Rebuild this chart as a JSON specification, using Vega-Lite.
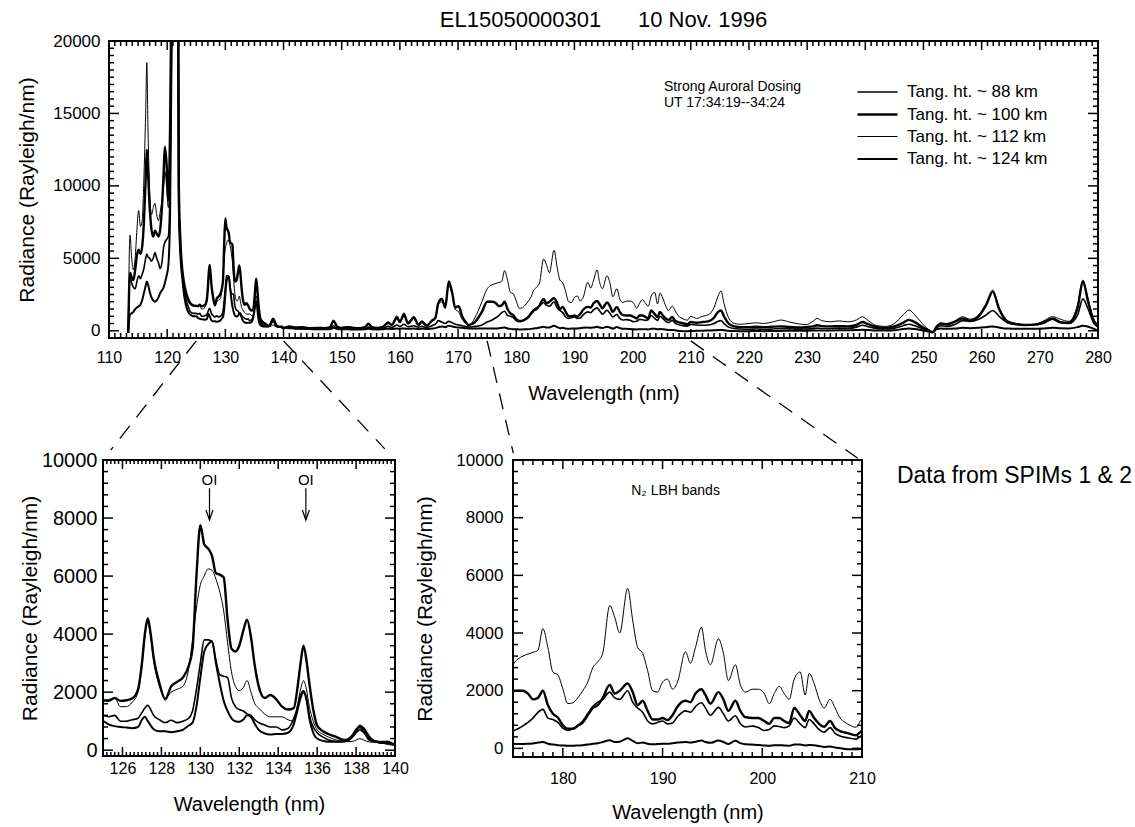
{
  "$schema": "https://vega.github.io/schema/vega-lite/v6.json",
  "padding": {"left": 15, "top": 8, "right": 5, "bottom": 2},
  "background": "white",
  "config": {
    "font": "Liberation Sans",
    "view": {"stroke": "black", "strokeWidth": 2},
    "axis": {"grid": false, "domain": false, "ticks": false, "labelColor": "black", "titleColor": "black", "labelFlush": false, "labelOverlap": false, "titleFontWeight": "normal"},
    "legend": {"labelColor": "black"},
    "title": {"color": "black"},
    "text": {"color": "black"},
    "tick": {"color": "black", "opacity": 1, "thickness": 1.5},
    "line": {"color": "black", "interpolate": "monotone", "strokeJoin": "round"}
  },
  "datasets": {
    "tx_top": [110,111,112,113,114,115,116,117,118,119,120,121,122,123,124,125,126,127,128,129,130,131,132,133,134,135,136,137,138,139,140,141,142,143,144,145,146,147,148,149,150,151,152,153,154,155,156,157,158,159,160,161,162,163,164,165,166,167,168,169,170,171,172,173,174,175,176,177,178,179,180,181,182,183,184,185,186,187,188,189,190,191,192,193,194,195,196,197,198,199,200,201,202,203,204,205,206,207,208,209,210,211,212,213,214,215,216,217,218,219,220,221,222,223,224,225,226,227,228,229,230,231,232,233,234,235,236,237,238,239,240,241,242,243,244,245,246,247,248,249,250,251,252,253,254,255,256,257,258,259,260,261,262,263,264,265,266,267,268,269,270,271,272,273,274,275,276,277,278,279,280],
    "ty_top": [0,500,1000,1500,2000,2500,3000,3500,4000,4500,5000,5500,6000,6500,7000,7500,8000,8500,9000,9500,10000,10500,11000,11500,12000,12500,13000,13500,14000,14500,15000,15500,16000,16500,17000,17500,18000,18500,19000,19500,20000],
    "tx_bl": [125,125.2,125.4,125.6,125.8,126,126.2,126.4,126.6,126.8,127,127.2,127.4,127.6,127.8,128,128.2,128.4,128.6,128.8,129,129.2,129.4,129.6,129.8,130,130.2,130.4,130.6,130.8,131,131.2,131.4,131.6,131.8,132,132.2,132.4,132.6,132.8,133,133.2,133.4,133.6,133.8,134,134.2,134.4,134.6,134.8,135,135.2,135.4,135.6,135.8,136,136.2,136.4,136.6,136.8,137,137.2,137.4,137.6,137.8,138,138.2,138.4,138.6,138.8,139,139.2,139.4,139.6,139.8,140],
    "ty_b": [0,400,800,1200,1600,2000,2400,2800,3200,3600,4000,4400,4800,5200,5600,6000,6400,6800,7200,7600,8000,8400,8800,9200,9600,10000],
    "tx_bm": [175,176,177,178,179,180,181,182,183,184,185,186,187,188,189,190,191,192,193,194,195,196,197,198,199,200,201,202,203,204,205,206,207,208,209,210],
    "spectra": [
      {"nm":113.3,"h88":-150,"h100":-150,"h112":-150,"h124":-150},
      {"nm":113.6,"h88":3800,"h100":4000,"h112":6600,"h124":1100},
      {"nm":113.9,"h88":3300,"h100":3700,"h112":5000,"h124":1200},
      {"nm":114.2,"h88":3000,"h100":3500,"h112":4200,"h124":1300},
      {"nm":114.5,"h88":2900,"h100":4200,"h112":5000,"h124":1500},
      {"nm":114.8,"h88":3400,"h100":5200,"h112":7000,"h124":1600},
      {"nm":115.1,"h88":3800,"h100":5600,"h112":8300,"h124":1700},
      {"nm":115.4,"h88":3600,"h100":5300,"h112":7200,"h124":1800},
      {"nm":115.7,"h88":3900,"h100":5800,"h112":7600,"h124":2100},
      {"nm":116.0,"h88":4300,"h100":7500,"h112":10500,"h124":2600},
      {"nm":116.3,"h88":5000,"h100":10500,"h112":15000,"h124":3100},
      {"nm":116.5,"h88":5300,"h100":12500,"h112":18500,"h124":3400},
      {"nm":116.7,"h88":5100,"h100":11000,"h112":14000,"h124":3200},
      {"nm":117.0,"h88":5000,"h100":8500,"h112":9500,"h124":2700},
      {"nm":117.3,"h88":4800,"h100":7000,"h112":8000,"h124":2300},
      {"nm":117.6,"h88":5000,"h100":6500,"h112":8500,"h124":2100},
      {"nm":117.9,"h88":5400,"h100":6900,"h112":8800,"h124":2000},
      {"nm":118.2,"h88":5000,"h100":6700,"h112":8000,"h124":2100},
      {"nm":118.5,"h88":4700,"h100":6500,"h112":7600,"h124":2300},
      {"nm":118.8,"h88":4300,"h100":7000,"h112":8200,"h124":2600},
      {"nm":119.1,"h88":4700,"h100":8500,"h112":9000,"h124":2800},
      {"nm":119.4,"h88":5800,"h100":11000,"h112":10000,"h124":3000},
      {"nm":119.6,"h88":6100,"h100":12700,"h112":11000,"h124":3300},
      {"nm":119.9,"h88":6300,"h100":11500,"h112":10000,"h124":3800},
      {"nm":120.2,"h88":6500,"h100":9000,"h112":8500,"h124":4500},
      {"nm":120.5,"h88":10000,"h100":14000,"h112":12000,"h124":8000},
      {"nm":120.8,"h88":22000,"h100":26000,"h112":24000,"h124":21000},
      {"nm":121.2,"h88":60000,"h100":60000,"h112":60000,"h124":60000},
      {"nm":121.6,"h88":90000,"h100":90000,"h112":90000,"h124":90000},
      {"nm":121.85,"h88":27000,"h100":30000,"h112":28000,"h124":26000},
      {"nm":122.0,"h88":9000,"h100":10000,"h112":9000,"h124":8500},
      {"nm":122.3,"h88":5500,"h100":6000,"h112":5500,"h124":5000},
      {"nm":122.6,"h88":3900,"h100":4200,"h112":4000,"h124":3600},
      {"nm":122.9,"h88":2900,"h100":3300,"h112":3100,"h124":2500},
      {"nm":123.2,"h88":2200,"h100":2700,"h112":2500,"h124":1800},
      {"nm":123.6,"h88":1700,"h100":2200,"h112":2000,"h124":1300},
      {"nm":124.0,"h88":1300,"h100":1900,"h112":1800,"h124":1100},
      {"nm":124.5,"h88":1200,"h100":1750,"h112":1700,"h124":1000},
      {"nm":125.0,"h88":1200,"h100":1720,"h112":1700,"h124":1000},
      {"nm":125.3,"h88":1150,"h100":1700,"h112":1750,"h124":880},
      {"nm":125.6,"h88":1200,"h100":1800,"h112":1800,"h124":830},
      {"nm":125.9,"h88":1000,"h100":1700,"h112":1500,"h124":800},
      {"nm":126.2,"h88":1000,"h100":1720,"h112":1500,"h124":780},
      {"nm":126.5,"h88":1050,"h100":1780,"h112":1650,"h124":760},
      {"nm":126.8,"h88":1100,"h100":2100,"h112":2000,"h124":800},
      {"nm":127.0,"h88":1300,"h100":3000,"h112":2900,"h124":1050},
      {"nm":127.15,"h88":1450,"h100":4000,"h112":3900,"h124":1150},
      {"nm":127.3,"h88":1550,"h100":4550,"h112":4400,"h124":1000},
      {"nm":127.45,"h88":1400,"h100":4000,"h112":3900,"h124":850},
      {"nm":127.6,"h88":1200,"h100":3200,"h112":3100,"h124":720},
      {"nm":127.9,"h88":1050,"h100":2300,"h112":2200,"h124":650},
      {"nm":128.2,"h88":950,"h100":1750,"h112":1800,"h124":650},
      {"nm":128.5,"h88":1030,"h100":2200,"h112":2000,"h124":620},
      {"nm":128.8,"h88":950,"h100":2350,"h112":2100,"h124":650},
      {"nm":129.1,"h88":1000,"h100":2500,"h112":2200,"h124":700},
      {"nm":129.4,"h88":1100,"h100":2900,"h112":2800,"h124":850},
      {"nm":129.6,"h88":1350,"h100":3500,"h112":3800,"h124":950},
      {"nm":129.8,"h88":2100,"h100":6000,"h112":4900,"h124":1500},
      {"nm":130.0,"h88":3000,"h100":7750,"h112":5700,"h124":2500},
      {"nm":130.2,"h88":3800,"h100":7100,"h112":6000,"h124":3400},
      {"nm":130.4,"h88":3800,"h100":6950,"h112":6250,"h124":3650},
      {"nm":130.6,"h88":3750,"h100":6700,"h112":6200,"h124":3750},
      {"nm":130.8,"h88":3100,"h100":6100,"h112":5900,"h124":3000},
      {"nm":131.0,"h88":2600,"h100":6050,"h112":5450,"h124":2300},
      {"nm":131.2,"h88":2550,"h100":5950,"h112":4800,"h124":1700},
      {"nm":131.4,"h88":2500,"h100":4500,"h112":3700,"h124":1350},
      {"nm":131.6,"h88":1800,"h100":3500,"h112":2700,"h124":1100},
      {"nm":131.8,"h88":1500,"h100":3400,"h112":2200,"h124":1000},
      {"nm":132.0,"h88":1400,"h100":3600,"h112":2050,"h124":980},
      {"nm":132.2,"h88":1350,"h100":4100,"h112":2150,"h124":1050},
      {"nm":132.4,"h88":1250,"h100":4500,"h112":2400,"h124":1200},
      {"nm":132.6,"h88":1200,"h100":3900,"h112":2000,"h124":1150},
      {"nm":132.8,"h88":1050,"h100":2900,"h112":1600,"h124":900},
      {"nm":133.0,"h88":950,"h100":2200,"h112":1450,"h124":700},
      {"nm":133.3,"h88":870,"h100":1800,"h112":1250,"h124":580},
      {"nm":133.6,"h88":800,"h100":1900,"h112":1150,"h124":540},
      {"nm":133.9,"h88":800,"h100":1750,"h112":1150,"h124":560},
      {"nm":134.2,"h88":700,"h100":1500,"h112":1150,"h124":560},
      {"nm":134.5,"h88":750,"h100":1400,"h112":1050,"h124":600},
      {"nm":134.8,"h88":1100,"h100":1450,"h112":1000,"h124":900},
      {"nm":135.0,"h88":1500,"h100":2200,"h112":1600,"h124":1400},
      {"nm":135.15,"h88":1900,"h100":3000,"h112":2100,"h124":1800},
      {"nm":135.3,"h88":2050,"h100":3600,"h112":2400,"h124":2000},
      {"nm":135.45,"h88":1800,"h100":3100,"h112":2100,"h124":1750},
      {"nm":135.6,"h88":1200,"h100":2300,"h112":1500,"h124":1100},
      {"nm":135.8,"h88":800,"h100":1400,"h112":1000,"h124":600},
      {"nm":136.0,"h88":600,"h100":850,"h112":700,"h124":400},
      {"nm":136.3,"h88":450,"h100":650,"h112":550,"h124":320},
      {"nm":136.6,"h88":350,"h100":550,"h112":450,"h124":290},
      {"nm":137.0,"h88":300,"h100":450,"h112":350,"h124":290},
      {"nm":137.4,"h88":300,"h100":350,"h112":300,"h124":300},
      {"nm":137.8,"h88":450,"h100":500,"h112":300,"h124":450},
      {"nm":138.0,"h88":600,"h100":700,"h112":350,"h124":650},
      {"nm":138.2,"h88":700,"h100":800,"h112":400,"h124":850},
      {"nm":138.4,"h88":600,"h100":650,"h112":350,"h124":750},
      {"nm":138.7,"h88":400,"h100":350,"h112":280,"h124":450},
      {"nm":139.0,"h88":300,"h100":300,"h112":270,"h124":300},
      {"nm":139.3,"h88":250,"h100":280,"h112":250,"h124":260},
      {"nm":139.6,"h88":250,"h100":290,"h112":200,"h124":250},
      {"nm":140.0,"h88":180,"h100":200,"h112":170,"h124":200},
      {"nm":141.0,"h88":200,"h100":300,"h112":250,"h124":180},
      {"nm":142.0,"h88":150,"h100":220,"h112":200,"h124":150},
      {"nm":143.0,"h88":150,"h100":250,"h112":220,"h124":130},
      {"nm":144.0,"h88":140,"h100":200,"h112":180,"h124":120},
      {"nm":145.0,"h88":120,"h100":180,"h112":170,"h124":110},
      {"nm":146.0,"h88":130,"h100":200,"h112":200,"h124":110},
      {"nm":147.0,"h88":120,"h100":180,"h112":170,"h124":100},
      {"nm":148.0,"h88":150,"h100":250,"h112":230,"h124":110},
      {"nm":148.6,"h88":350,"h100":700,"h112":650,"h124":200},
      {"nm":149.2,"h88":160,"h100":300,"h112":280,"h124":120},
      {"nm":150.0,"h88":130,"h100":200,"h112":200,"h124":100},
      {"nm":151.0,"h88":140,"h100":250,"h112":230,"h124":100},
      {"nm":152.0,"h88":120,"h100":200,"h112":200,"h124":90},
      {"nm":153.0,"h88":120,"h100":180,"h112":200,"h124":90},
      {"nm":154.0,"h88":150,"h100":250,"h112":250,"h124":100},
      {"nm":154.6,"h88":250,"h100":480,"h112":450,"h124":130},
      {"nm":155.2,"h88":140,"h100":250,"h112":230,"h124":100},
      {"nm":156.0,"h88":120,"h100":200,"h112":200,"h124":90},
      {"nm":157.0,"h88":150,"h100":250,"h112":280,"h124":100},
      {"nm":158.0,"h88":300,"h100":550,"h112":620,"h124":130},
      {"nm":158.6,"h88":220,"h100":400,"h112":450,"h124":120},
      {"nm":159.5,"h88":400,"h100":900,"h112":1050,"h124":150},
      {"nm":160.0,"h88":300,"h100":600,"h112":700,"h124":140},
      {"nm":160.7,"h88":450,"h100":1100,"h112":1250,"h124":160},
      {"nm":161.4,"h88":280,"h100":500,"h112":600,"h124":130},
      {"nm":162.4,"h88":350,"h100":900,"h112":1000,"h124":150},
      {"nm":163.2,"h88":250,"h100":400,"h112":500,"h124":120},
      {"nm":163.8,"h88":300,"h100":600,"h112":700,"h124":140},
      {"nm":164.6,"h88":220,"h100":350,"h112":400,"h124":120},
      {"nm":165.5,"h88":350,"h100":700,"h112":650,"h124":150},
      {"nm":166.1,"h88":450,"h100":900,"h112":800,"h124":180},
      {"nm":166.6,"h88":700,"h100":1900,"h112":1800,"h124":250},
      {"nm":167.2,"h88":600,"h100":2200,"h112":2000,"h124":300},
      {"nm":167.8,"h88":500,"h100":1600,"h112":1800,"h124":250},
      {"nm":168.4,"h88":650,"h100":3400,"h112":3100,"h124":350},
      {"nm":169.0,"h88":550,"h100":2600,"h112":2500,"h124":300},
      {"nm":169.5,"h88":450,"h100":1600,"h112":1500,"h124":250},
      {"nm":170.1,"h88":400,"h100":1700,"h112":1300,"h124":220},
      {"nm":170.7,"h88":350,"h100":1000,"h112":800,"h124":200},
      {"nm":171.3,"h88":300,"h100":600,"h112":500,"h124":180},
      {"nm":171.8,"h88":250,"h100":400,"h112":350,"h124":150},
      {"nm":172.9,"h88":300,"h100":600,"h112":900,"h124":150},
      {"nm":174.1,"h88":400,"h100":1300,"h112":2000,"h124":150},
      {"nm":175.0,"h88":600,"h100":2000,"h112":2900,"h124":150},
      {"nm":175.5,"h88":680,"h100":2000,"h112":3100,"h124":150},
      {"nm":176.0,"h88":780,"h100":2000,"h112":3200,"h124":150},
      {"nm":176.5,"h88":900,"h100":1900,"h112":3270,"h124":160},
      {"nm":177.0,"h88":1050,"h100":1700,"h112":3330,"h124":170},
      {"nm":177.5,"h88":1250,"h100":1750,"h112":3400,"h124":200},
      {"nm":178.0,"h88":1350,"h100":2000,"h112":4150,"h124":220},
      {"nm":178.5,"h88":1050,"h100":1500,"h112":3500,"h124":160},
      {"nm":179.0,"h88":1000,"h100":1200,"h112":2650,"h124":130},
      {"nm":179.5,"h88":900,"h100":1070,"h112":2550,"h124":110},
      {"nm":180.0,"h88":700,"h100":800,"h112":2060,"h124":100},
      {"nm":180.5,"h88":620,"h100":680,"h112":1550,"h124":90},
      {"nm":181.0,"h88":680,"h100":680,"h112":1580,"h124":90},
      {"nm":181.5,"h88":800,"h100":780,"h112":1750,"h124":100},
      {"nm":182.0,"h88":950,"h100":900,"h112":2000,"h124":110},
      {"nm":182.5,"h88":1200,"h100":1150,"h112":2300,"h124":130},
      {"nm":183.0,"h88":1450,"h100":1400,"h112":2800,"h124":160},
      {"nm":183.5,"h88":1600,"h100":1500,"h112":3000,"h124":180},
      {"nm":184.0,"h88":1700,"h100":1750,"h112":3300,"h124":220},
      {"nm":184.7,"h88":1950,"h100":2200,"h112":4950,"h124":280},
      {"nm":185.2,"h88":1750,"h100":1900,"h112":4550,"h124":220},
      {"nm":185.7,"h88":1700,"h100":2000,"h112":4000,"h124":230},
      {"nm":186.5,"h88":2000,"h100":2250,"h112":5550,"h124":350},
      {"nm":187.0,"h88":1600,"h100":1950,"h112":4450,"h124":260},
      {"nm":187.5,"h88":1400,"h100":1500,"h112":3500,"h124":180},
      {"nm":188.0,"h88":1250,"h100":1650,"h112":3300,"h124":200},
      {"nm":188.5,"h88":950,"h100":1300,"h112":2700,"h124":160},
      {"nm":189.0,"h88":850,"h100":1000,"h112":2000,"h124":140},
      {"nm":189.5,"h88":900,"h100":1000,"h112":1950,"h124":150},
      {"nm":190.0,"h88":950,"h100":1050,"h112":2300,"h124":160},
      {"nm":190.5,"h88":850,"h100":980,"h112":2400,"h124":160},
      {"nm":191.0,"h88":880,"h100":1150,"h112":2050,"h124":180},
      {"nm":191.5,"h88":1100,"h100":1450,"h112":2300,"h124":200},
      {"nm":192.3,"h88":1300,"h100":1650,"h112":3350,"h124":220},
      {"nm":192.8,"h88":1250,"h100":1600,"h112":2950,"h124":200},
      {"nm":193.3,"h88":1450,"h100":1900,"h112":3500,"h124":230},
      {"nm":193.9,"h88":1580,"h100":2050,"h112":4200,"h124":270},
      {"nm":194.3,"h88":1400,"h100":1850,"h112":3400,"h124":220},
      {"nm":194.8,"h88":1150,"h100":1550,"h112":2900,"h124":190},
      {"nm":195.6,"h88":1420,"h100":1950,"h112":3800,"h124":270},
      {"nm":196.1,"h88":1200,"h100":1700,"h112":3300,"h124":220},
      {"nm":196.6,"h88":950,"h100":1300,"h112":2350,"h124":150},
      {"nm":197.3,"h88":1130,"h100":1650,"h112":2900,"h124":260},
      {"nm":197.8,"h88":850,"h100":1300,"h112":2200,"h124":180},
      {"nm":198.3,"h88":740,"h100":1080,"h112":1950,"h124":140},
      {"nm":199.0,"h88":770,"h100":1050,"h112":2050,"h124":130},
      {"nm":199.6,"h88":720,"h100":1050,"h112":2050,"h124":120},
      {"nm":200.2,"h88":620,"h100":950,"h112":1900,"h124":100},
      {"nm":200.7,"h88":650,"h100":850,"h112":1550,"h124":90},
      {"nm":201.2,"h88":780,"h100":1050,"h112":1900,"h124":110},
      {"nm":201.7,"h88":760,"h100":1050,"h112":2150,"h124":110},
      {"nm":202.2,"h88":720,"h100":950,"h112":1900,"h124":100},
      {"nm":202.7,"h88":780,"h100":880,"h112":1700,"h124":90},
      {"nm":203.2,"h88":1050,"h100":1400,"h112":2400,"h124":130},
      {"nm":203.8,"h88":850,"h100":1150,"h112":2650,"h124":130},
      {"nm":204.3,"h88":720,"h100":950,"h112":1850,"h124":100},
      {"nm":204.7,"h88":1000,"h100":1300,"h112":2600,"h124":120},
      {"nm":205.2,"h88":850,"h100":1050,"h112":2250,"h124":110},
      {"nm":205.7,"h88":650,"h100":850,"h112":1700,"h124":80},
      {"nm":206.2,"h88":560,"h100":750,"h112":1400,"h124":50},
      {"nm":206.8,"h88":720,"h100":950,"h112":1700,"h124":60},
      {"nm":207.3,"h88":520,"h100":700,"h112":1400,"h124":30},
      {"nm":207.8,"h88":430,"h100":600,"h112":1050,"h124":0},
      {"nm":208.3,"h88":380,"h100":550,"h112":900,"h124":-20},
      {"nm":208.8,"h88":350,"h100":500,"h112":800,"h124":-30},
      {"nm":209.4,"h88":320,"h100":450,"h112":730,"h124":-30},
      {"nm":210.0,"h88":440,"h100":600,"h112":1000,"h124":-20},
      {"nm":211.0,"h88":400,"h100":550,"h112":850,"h124":0},
      {"nm":212.0,"h88":380,"h100":600,"h112":1000,"h124":0},
      {"nm":213.0,"h88":400,"h100":650,"h112":1100,"h124":20},
      {"nm":214.0,"h88":500,"h100":900,"h112":1600,"h124":30},
      {"nm":214.7,"h88":650,"h100":1300,"h112":2400,"h124":50},
      {"nm":215.2,"h88":700,"h100":1400,"h112":2750,"h124":60},
      {"nm":215.7,"h88":500,"h100":1000,"h112":1900,"h124":40},
      {"nm":216.5,"h88":250,"h100":500,"h112":900,"h124":0},
      {"nm":217.5,"h88":150,"h100":300,"h112":500,"h124":-20},
      {"nm":218.5,"h88":120,"h100":250,"h112":450,"h124":-30},
      {"nm":220.0,"h88":100,"h100":250,"h112":500,"h124":-30},
      {"nm":221.3,"h88":120,"h100":280,"h112":550,"h124":-20},
      {"nm":222.5,"h88":100,"h100":250,"h112":500,"h124":-30},
      {"nm":224.0,"h88":120,"h100":280,"h112":600,"h124":-20},
      {"nm":225.5,"h88":150,"h100":300,"h112":740,"h124":-10},
      {"nm":227.0,"h88":130,"h100":260,"h112":600,"h124":0},
      {"nm":228.5,"h88":110,"h100":220,"h112":480,"h124":0},
      {"nm":229.8,"h88":120,"h100":250,"h112":420,"h124":0},
      {"nm":231.0,"h88":150,"h100":300,"h112":650,"h124":10},
      {"nm":231.7,"h88":180,"h100":380,"h112":850,"h124":20},
      {"nm":232.5,"h88":160,"h100":320,"h112":700,"h124":10},
      {"nm":234.0,"h88":160,"h100":300,"h112":620,"h124":20},
      {"nm":235.5,"h88":180,"h100":320,"h112":680,"h124":30},
      {"nm":237.0,"h88":170,"h100":300,"h112":620,"h124":40},
      {"nm":238.5,"h88":250,"h100":400,"h112":750,"h124":50},
      {"nm":239.5,"h88":380,"h100":600,"h112":970,"h124":70},
      {"nm":240.5,"h88":280,"h100":450,"h112":700,"h124":50},
      {"nm":242.0,"h88":150,"h100":250,"h112":350,"h124":20},
      {"nm":243.5,"h88":120,"h100":200,"h112":300,"h124":10},
      {"nm":245.0,"h88":180,"h100":300,"h112":500,"h124":30},
      {"nm":246.5,"h88":350,"h100":550,"h112":1100,"h124":120},
      {"nm":247.5,"h88":450,"h100":750,"h112":1430,"h124":150},
      {"nm":248.5,"h88":350,"h100":600,"h112":1100,"h124":120},
      {"nm":249.8,"h88":150,"h100":250,"h112":500,"h124":40},
      {"nm":250.8,"h88":0,"h100":50,"h112":100,"h124":-50},
      {"nm":251.6,"h88":-100,"h100":-100,"h112":-80,"h124":-100},
      {"nm":252.2,"h88":200,"h100":250,"h112":300,"h124":100},
      {"nm":253.0,"h88":350,"h100":500,"h112":500,"h124":150},
      {"nm":254.0,"h88":300,"h100":450,"h112":450,"h124":130},
      {"nm":255.5,"h88":450,"h100":650,"h112":700,"h124":150},
      {"nm":256.7,"h88":700,"h100":850,"h112":970,"h124":200},
      {"nm":258.0,"h88":650,"h100":700,"h112":800,"h124":180},
      {"nm":259.5,"h88":800,"h100":1000,"h112":1100,"h124":200},
      {"nm":260.8,"h88":1100,"h100":1800,"h112":1900,"h124":250},
      {"nm":261.9,"h88":1400,"h100":2700,"h112":2800,"h124":300},
      {"nm":263.0,"h88":1000,"h100":1500,"h112":1600,"h124":220},
      {"nm":264.5,"h88":550,"h100":600,"h112":700,"h124":150},
      {"nm":266.0,"h88":450,"h100":450,"h112":500,"h124":140},
      {"nm":267.5,"h88":380,"h100":400,"h112":420,"h124":130},
      {"nm":269.0,"h88":400,"h100":420,"h112":450,"h124":130},
      {"nm":270.5,"h88":500,"h100":550,"h112":650,"h124":150},
      {"nm":272.2,"h88":800,"h100":850,"h112":970,"h124":200},
      {"nm":273.5,"h88":550,"h100":600,"h112":800,"h124":170},
      {"nm":275.0,"h88":500,"h100":550,"h112":650,"h124":160},
      {"nm":276.5,"h88":1100,"h100":1600,"h112":1800,"h124":250},
      {"nm":277.4,"h88":2200,"h100":3400,"h112":3500,"h124":350},
      {"nm":278.3,"h88":1500,"h100":2000,"h112":2200,"h124":280},
      {"nm":279.2,"h88":600,"h100":700,"h112":900,"h124":150},
      {"nm":280.0,"h88":250,"h100":300,"h112":400,"h124":0}
    ]
  },
  "spacing": -13,
  "vconcat": [
    {
      "bounds": "flush",
      "spacing": 5,
      "hconcat": [
        {
          "width": 1,
          "height": 1,
          "view": {"stroke": null},
          "data": {"values": []},
          "mark": "point"
        },
        {
          "width": 989,
          "height": 297,
          "title": {"text": "EL15050000301\u00a0\u00a0\u00a0\u00a0\u00a0\u00a010 Nov. 1996", "fontSize": 22, "fontWeight": "normal", "anchor": "middle", "frame": "group", "offset": 0},
          "layer": [
            {
              "data": {"name": "spectra"},
              "transform": [{"fold": ["h88", "h100", "h112", "h124"], "as": ["series", "radiance"]}],
              "mark": {"type": "line", "clip": true},
              "encoding": {
                "x": {"field": "nm", "type": "quantitative", "scale": {"domain": [110, 280], "nice": false, "zero": false},
                  "axis": {"orient": "bottom", "values": [110,120,130,140,150,160,170,180,190,200,210,220,230,240,250,260,270,280], "format": "d",
                    "labelPadding": 11, "labelFontSize": 16, "title": "Wavelength (nm)", "titleFontSize": 20, "titlePadding": 18}},
                "y": {"field": "radiance", "type": "quantitative", "scale": {"domain": [-500, 20000], "nice": false, "zero": false},
                  "axis": {"orient": "left", "values": [0, 5000, 10000, 15000, 20000], "format": "d",
                    "labelPadding": 9, "labelFontSize": 17, "title": "Radiance (Rayleigh/nm)", "titleFontSize": 21, "titlePadding": 15}},
                "strokeWidth": {"field": "series", "type": "nominal",
                  "scale": {"type": "ordinal", "domain": ["h88", "h100", "h112", "h124"], "range": [1.6, 2.4, 1, 2]},
                  "legend": {"orient": "none", "legendX": 763, "legendY": 40, "title": null, "padding": 0,
                    "symbolType": "M-2,0H2", "symbolSize": 400, "symbolStrokeColor": "black", "symbolFillColor": "transparent",
                    "labelFontSize": 17, "labelOffset": 18, "rowPadding": 3,
                    "labelExpr": "replace(datum.label, 'h', 'Tang. ht. ~ ') + ' km'"}}
              }
            },
            {
              "data": {"values": [{}]},
              "mark": {"type": "text", "text": ["Strong Auroral Dosing", "UT 17:34:19--34:24"], "align": "left", "baseline": "top", "fontSize": 14, "lineHeight": 16},
              "encoding": {
                "x": {"datum": 205.4, "type": "quantitative", "axis": null},
                "y": {"datum": 17300, "type": "quantitative", "axis": null}
              }
            },
            {
              "data": {"name": "tx_top"},
              "mark": {"type": "tick", "orient": "vertical", "clip": true},
              "encoding": {
                "x": {"field": "data", "type": "quantitative", "axis": null},
                "y": {"datum": -500, "type": "quantitative", "axis": null},
                "size": {"condition": {"test": "datum.data % 10 === 0", "value": 18}, "value": 10}
              }
            },
            {
              "data": {"name": "tx_top"},
              "mark": {"type": "tick", "orient": "vertical", "clip": true},
              "encoding": {
                "x": {"field": "data", "type": "quantitative", "axis": null},
                "y": {"datum": 20000, "type": "quantitative", "axis": null},
                "size": {"condition": {"test": "datum.data % 10 === 0", "value": 18}, "value": 10}
              }
            },
            {
              "data": {"name": "ty_top"},
              "mark": {"type": "tick", "orient": "horizontal", "clip": true},
              "encoding": {
                "y": {"field": "data", "type": "quantitative", "axis": null},
                "x": {"datum": 110, "type": "quantitative", "axis": null},
                "size": {"condition": {"test": "datum.data % 5000 === 0", "value": 20}, "value": 10}
              }
            },
            {
              "data": {"name": "ty_top"},
              "mark": {"type": "tick", "orient": "horizontal", "clip": true},
              "encoding": {
                "y": {"field": "data", "type": "quantitative", "axis": null},
                "x": {"datum": 280, "type": "quantitative", "axis": null},
                "size": {"condition": {"test": "datum.data % 5000 === 0", "value": 20}, "value": 10}
              }
            },
            {
              "data": {"values": [{}]},
              "mark": {"type": "rule", "strokeDash": [16, 11], "strokeWidth": 1.3, "color": "black"},
              "encoding": {
                "x": {"datum": 125, "type": "quantitative", "axis": null}, "x2": {"datum": 110.3},
                "y": {"datum": -700, "type": "quantitative", "axis": null}, "y2": {"datum": -8240}
              }
            },
            {
              "data": {"values": [{}]},
              "mark": {"type": "rule", "strokeDash": [16, 11], "strokeWidth": 1.3, "color": "black"},
              "encoding": {
                "x": {"datum": 140, "type": "quantitative", "axis": null}, "x2": {"datum": 157.4},
                "y": {"datum": -700, "type": "quantitative", "axis": null}, "y2": {"datum": -8150}
              }
            },
            {
              "data": {"values": [{}]},
              "mark": {"type": "rule", "strokeDash": [16, 11], "strokeWidth": 1.3, "color": "black"},
              "encoding": {
                "x": {"datum": 175, "type": "quantitative", "axis": null}, "x2": {"datum": 179.5},
                "y": {"datum": -700, "type": "quantitative", "axis": null}, "y2": {"datum": -8450}
              }
            },
            {
              "data": {"values": [{}]},
              "mark": {"type": "rule", "strokeDash": [16, 11], "strokeWidth": 1.3, "color": "black"},
              "encoding": {
                "x": {"datum": 210, "type": "quantitative", "axis": null}, "x2": {"datum": 238.7},
                "y": {"datum": -700, "type": "quantitative", "axis": null}, "y2": {"datum": -8800}
              }
            }
          ],
          "resolve": {"axis": {"x": "independent", "y": "independent"}}
        }
      ]
    },
    {
      "bounds": "flush",
      "spacing": 118,
      "hconcat": [
        {
          "width": 292,
          "height": 296,
          "layer": [
            {
              "data": {"name": "spectra"},
              "transform": [{"filter": {"field": "nm", "range": [124.5, 141]}}, {"fold": ["h88", "h100", "h112", "h124"], "as": ["series", "radiance"]}],
              "mark": {"type": "line", "clip": true},
              "encoding": {
                "x": {"field": "nm", "type": "quantitative", "scale": {"domain": [125, 140], "nice": false, "zero": false},
                  "axis": {"orient": "bottom", "values": [126,128,130,132,134,136,138,140], "format": "d",
                    "labelPadding": 4, "labelFontSize": 16, "title": "Wavelength (nm)", "titleFontSize": 20, "titlePadding": 18}},
                "y": {"field": "radiance", "type": "quantitative", "scale": {"domain": [-200, 10000], "nice": false, "zero": false},
                  "axis": {"orient": "left", "values": [0,2000,4000,6000,8000,10000], "format": "d",
                    "labelPadding": 6, "labelFontSize": 20, "title": "Radiance (Rayleigh/nm)", "titleFontSize": 21, "titlePadding": 1}},
                "strokeWidth": {"field": "series", "type": "nominal",
                  "scale": {"type": "ordinal", "domain": ["h88", "h100", "h112", "h124"], "range": [1.6, 2.4, 1, 2]}, "legend": null}
              }
            },
            {
              "data": {"values": [{"nm": 130.47, "label": "OI"}, {"nm": 135.42, "label": "OI"}]},
              "mark": {"type": "text", "fontSize": 15, "baseline": "middle", "align": "center"},
              "encoding": {
                "x": {"field": "nm", "type": "quantitative", "axis": null},
                "y": {"datum": 9310, "type": "quantitative", "axis": null},
                "text": {"field": "label"}
              }
            },
            {
              "data": {"values": [{"nm": 130.47}, {"nm": 135.42}]},
              "mark": {"type": "rule", "strokeWidth": 1.2, "color": "black"},
              "encoding": {
                "x": {"field": "nm", "type": "quantitative", "axis": null},
                "y": {"datum": 9030, "type": "quantitative", "axis": null},
                "y2": {"datum": 7960}
              }
            },
            {
              "data": {"values": [{"nm": 130.47}, {"nm": 135.42}]},
              "mark": {"type": "point", "shape": "M-0.7,-2L0,0L0.7,-2", "filled": false, "size": 100, "strokeWidth": 1.2, "color": "black", "opacity": 1},
              "encoding": {
                "x": {"field": "nm", "type": "quantitative", "axis": null},
                "y": {"datum": 7930, "type": "quantitative", "axis": null}
              }
            },
            {
              "data": {"name": "tx_bl"},
              "mark": {"type": "tick", "orient": "vertical", "clip": true},
              "encoding": {
                "x": {"field": "data", "type": "quantitative", "axis": null},
                "y": {"datum": -200, "type": "quantitative", "axis": null},
                "size": {"condition": {"test": "datum.data % 2 === 0", "value": 18}, "value": 8}
              }
            },
            {
              "data": {"name": "tx_bl"},
              "mark": {"type": "tick", "orient": "vertical", "clip": true},
              "encoding": {
                "x": {"field": "data", "type": "quantitative", "axis": null},
                "y": {"datum": 10000, "type": "quantitative", "axis": null},
                "size": {"condition": {"test": "datum.data % 2 === 0", "value": 18}, "value": 8}
              }
            },
            {
              "data": {"name": "ty_b"},
              "mark": {"type": "tick", "orient": "horizontal", "clip": true},
              "encoding": {
                "y": {"field": "data", "type": "quantitative", "axis": null},
                "x": {"datum": 125, "type": "quantitative", "axis": null},
                "size": {"condition": {"test": "datum.data % 2000 === 0", "value": 20}, "value": 10}
              }
            },
            {
              "data": {"name": "ty_b"},
              "mark": {"type": "tick", "orient": "horizontal", "clip": true},
              "encoding": {
                "y": {"field": "data", "type": "quantitative", "axis": null},
                "x": {"datum": 140, "type": "quantitative", "axis": null},
                "size": {"condition": {"test": "datum.data % 2000 === 0", "value": 20}, "value": 10}
              }
            }
          ],
          "resolve": {"axis": {"x": "independent", "y": "independent"}}
        },
        {
          "width": 349,
          "height": 297,
          "layer": [
            {
              "data": {"name": "spectra"},
              "transform": [{"filter": {"field": "nm", "range": [174.1, 211]}}, {"fold": ["h88", "h100", "h112", "h124"], "as": ["series", "radiance"]}],
              "mark": {"type": "line", "clip": true},
              "encoding": {
                "x": {"field": "nm", "type": "quantitative", "scale": {"domain": [175, 210], "nice": false, "zero": false},
                  "axis": {"orient": "bottom", "values": [180, 190, 200, 210], "format": "d",
                    "labelPadding": 13, "labelFontSize": 16, "title": "Wavelength (nm)", "titleFontSize": 20, "titlePadding": 16}},
                "y": {"field": "radiance", "type": "quantitative", "scale": {"domain": [-300, 10000], "nice": false, "zero": false},
                  "axis": {"orient": "left", "values": [0,2000,4000,6000,8000,10000], "format": "d",
                    "labelPadding": 10, "labelFontSize": 17, "title": "Radiance (Rayleigh/nm)", "titleFontSize": 21, "titlePadding": 20}},
                "strokeWidth": {"field": "series", "type": "nominal",
                  "scale": {"type": "ordinal", "domain": ["h88", "h100", "h112", "h124"], "range": [1.6, 2.4, 1, 2]}, "legend": null}
              }
            },
            {
              "data": {"values": [{}]},
              "mark": {"type": "text", "text": "N₂ LBH bands", "fontSize": 14, "align": "center", "baseline": "middle"},
              "encoding": {
                "x": {"datum": 191.3, "type": "quantitative", "axis": null},
                "y": {"datum": 8915, "type": "quantitative", "axis": null}
              }
            },
            {
              "data": {"values": [{}]},
              "mark": {"type": "text", "text": "Data from SPIMs 1 & 2", "fontSize": 23, "align": "left", "baseline": "middle"},
              "encoding": {
                "x": {"datum": 213.5, "type": "quantitative", "axis": null},
                "y": {"datum": 9435, "type": "quantitative", "axis": null}
              }
            },
            {
              "data": {"name": "tx_bm"},
              "mark": {"type": "tick", "orient": "vertical", "clip": true},
              "encoding": {
                "x": {"field": "data", "type": "quantitative", "axis": null},
                "y": {"datum": -300, "type": "quantitative", "axis": null},
                "size": {"condition": {"test": "datum.data % 10 === 0", "value": 18}, "value": 10}
              }
            },
            {
              "data": {"name": "tx_bm"},
              "mark": {"type": "tick", "orient": "vertical", "clip": true},
              "encoding": {
                "x": {"field": "data", "type": "quantitative", "axis": null},
                "y": {"datum": 10000, "type": "quantitative", "axis": null},
                "size": {"condition": {"test": "datum.data % 10 === 0", "value": 18}, "value": 10}
              }
            },
            {
              "data": {"name": "ty_b"},
              "mark": {"type": "tick", "orient": "horizontal", "clip": true},
              "encoding": {
                "y": {"field": "data", "type": "quantitative", "axis": null},
                "x": {"datum": 175, "type": "quantitative", "axis": null},
                "size": {"condition": {"test": "datum.data % 2000 === 0", "value": 20}, "value": 10}
              }
            },
            {
              "data": {"name": "ty_b"},
              "mark": {"type": "tick", "orient": "horizontal", "clip": true},
              "encoding": {
                "y": {"field": "data", "type": "quantitative", "axis": null},
                "x": {"datum": 210, "type": "quantitative", "axis": null},
                "size": {"condition": {"test": "datum.data % 2000 === 0", "value": 20}, "value": 10}
              }
            }
          ],
          "resolve": {"axis": {"x": "independent", "y": "independent"}}
        }
      ]
    }
  ]
}
